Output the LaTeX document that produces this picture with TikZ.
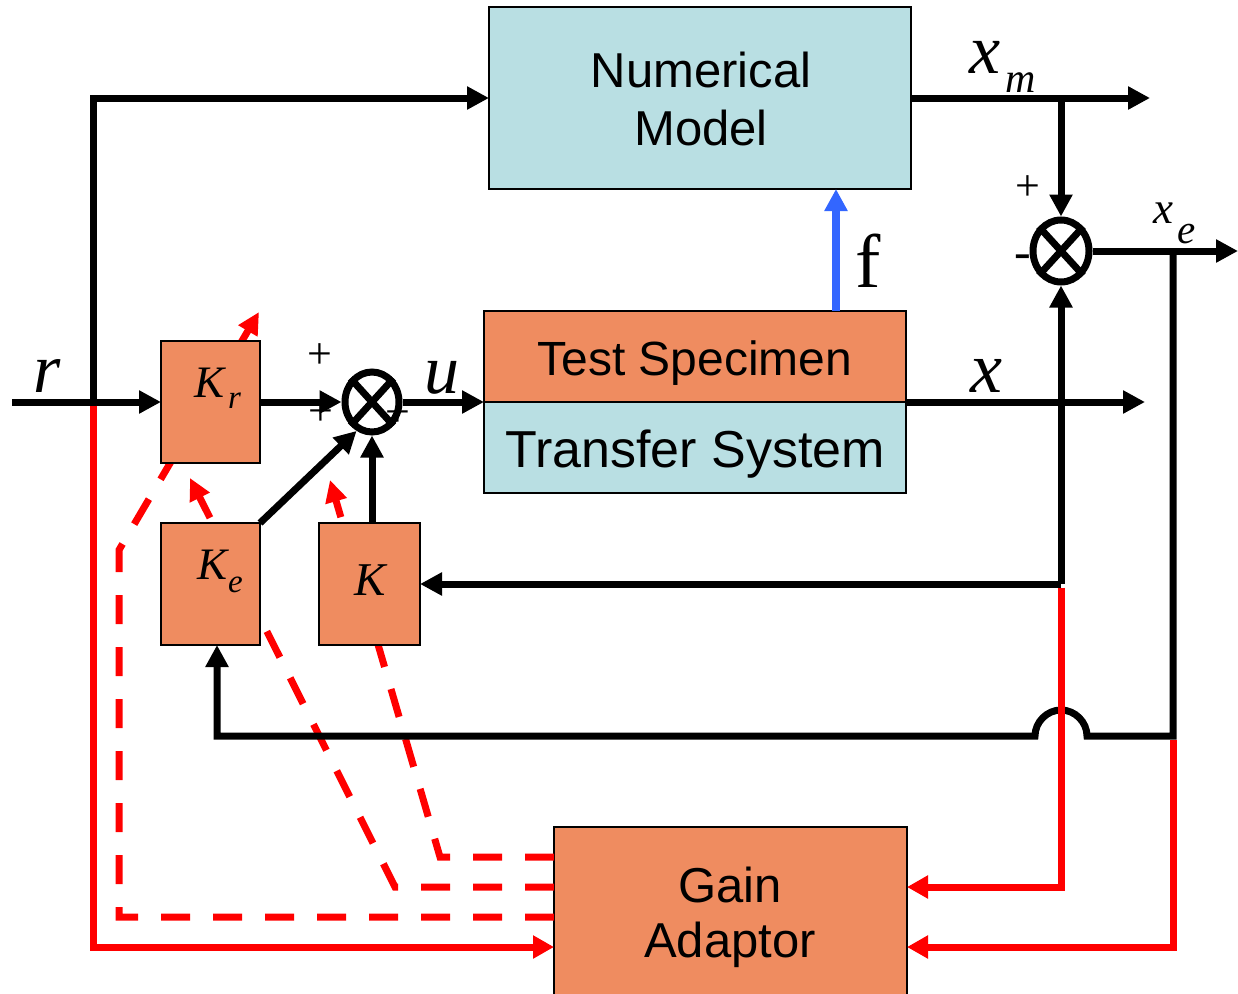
\documentclass[tikz,border=0pt]{standalone}
\usepackage{fontspec}
\setmainfont{Liberation Sans}
\newfontfamily\tms{Liberation Serif}
\usetikzlibrary{arrows.meta,shapes.geometric,calc}

\definecolor{boxorange}{HTML}{EF8C60}
\definecolor{boxblue}{HTML}{B9DFE3}
\definecolor{sigred}{HTML}{FF0000}
\definecolor{forceblue}{HTML}{3366FF}

\tikzset{
  blk/.style={draw=black, line width=2.5pt, inner sep=0pt, outer sep=0pt},
  orangeblk/.style={blk, fill=boxorange},
  blueblk/.style={blk, fill=boxblue},
  wire/.style={line width=7pt},
  sig/.style={wire, -{Triangle[length=22pt,width=22pt]}},
  redsig/.style={wire, draw=sigred, -{Triangle[length=21pt,width=22pt]}, shorten <=3.5pt},
  adapt/.style={wire, draw=sigred, dash pattern=on 29pt off 23pt, -{Triangle[length=22pt,width=21pt]}},
  junction/.style={draw, ellipse, line width=7pt, inner sep=0pt},
  sans/.style={inner sep=0pt, anchor=base, font=\fontsize{#1}{#1}\selectfont},
  sans/.default=49,
  ital/.style={inner sep=0pt, anchor=base west, font=\tms\itshape\fontsize{#1}{#1}\selectfont},
  rom/.style={inner sep=0pt, font=\tms\fontsize{#1}{#1}\selectfont}
}

\begin{document}
\begin{tikzpicture}[x=1pt,y=-1pt]
\useasboundingbox (0,0) rectangle (1238,993);
\clip (0,0) rectangle (1238,993);

% gain adaptor first, so that the dashed gain paths start at its edge
\node[orangeblk, minimum width=353pt, minimum height=173pt] (GA) at (730.5,913.5) {};
\node[sans] (GAt1) at (730,902) {Gain};
\node[sans] (GAt2) at (730,957) {Adaptor};

\coordinate (ga1) at ($(GA.north west)+(0,30)$);
\coordinate (ga2) at ($(GA.north west)+(0,60)$);
\coordinate (ga3) at ($(GA.north west)+(0,90)$);
\coordinate (ga4) at ($(GA.north west)+(0,120)$);
\coordinate (gb1) at ($(GA.north east)+(0,60)$);
\coordinate (gb2) at ($(GA.north east)+(0,120)$);

% adaptive gain paths (run underneath the gain blocks)
\coordinate (d1a) at (119,917);
\coordinate (d1b) at (119,550);
\coordinate (d1t) at (259,312);
\coordinate (d2a) at (395,887);
\coordinate (d2t) at (190,478);
\coordinate (d3a) at (440,857);
\coordinate (d3t) at (330,480);
\draw[adapt] (ga3) -- (d1a) -- (d1b) -- (d1t);
\draw[adapt] (ga2) -- (d2a) -- (d2t);
\draw[adapt] (ga1) -- (d3a) -- (d3t);

% blocks
\node[blueblk, minimum width=422pt, minimum height=182pt] (NM) at (700,98) {};
\node[sans] (NMt1) at (701,87) {Numerical};
\node[sans] (NMt2) at (701,145) {Model};
\node[orangeblk, minimum width=422pt, minimum height=91pt] (TS) at (695,356.5) {};
\node[blueblk, minimum width=422pt, minimum height=91pt] (TR) at (695,447.5) {};
\node[sans=48] (TSt) at (695,375) {Test Specimen};
\node[sans=52] (TRt) at (695,467) {Transfer System};
\node[orangeblk, minimum width=99pt, minimum height=122pt] (Kr) at (210.5,402) {};
\node[orangeblk, minimum width=99pt, minimum height=122pt] (Ke) at (210.5,584) {};
\node[orangeblk, minimum width=101pt, minimum height=122pt] (K) at (369.5,584) {};

% gain labels
\node[ital=45] (KrK) at (194,397) {K};
\node[ital=33] (Krr) at (228,408) {r};
\node[ital=45] (KeK) at (197,579) {K};
\node[ital=33] (Kee) at (228,592) {e};
\node[ital=47] (KK) at (354,595) {K};

% summing junctions
\node[rom=44] (p1) at (320,356) {+};
\node[rom=44] (p2) at (321,413) {+};
\node[rom=44] (p3) at (398,414) {+};
\node[junction, minimum width=54pt, minimum height=60pt] (s1) at (372,402) {};
\draw[wire] (s1.north east) -- (s1.south west) (s1.north west) -- (s1.south east);
\node[rom=44] (p4) at (1028,188) {+};
\node[rom=50] (m1) at (1023,262) {-};
\node[junction, minimum width=56pt, minimum height=62pt] (s2) at (1061,251) {};
\draw[wire] (s2.north east) -- (s2.south west) (s2.north west) -- (s2.south east);

% signal coordinates
\coordinate (rin) at (12,402);
\coordinate (jr) at (93,402);
\coordinate (jm) at (1061,98);
\coordinate (xmout) at (1150,98);
\coordinate (je) at (1173,251);
\coordinate (xeout) at (1238,251);
\coordinate (jeb) at (1173,736);
\coordinate (xout) at (1145,402);
\coordinate (jx) at (1061,584);
\coordinate (kecorner) at (217,736);
\coordinate (fb) at (836,311);

% black signal paths
\draw[sig] (rin) -- (Kr.west);
\draw[sig] (jr) |- (NM.west);
\draw[sig] (NM.east) -- (xmout);
\draw[sig] (jm) -- (s2.north);
\draw[sig] (s2.east) -- (xeout);
\draw[sig] (Kr.east) -- (s1.west);
\draw[sig] (s1.east) -- (TS.south west);
\draw[sig] (TS.south east) -- (xout);
\draw[sig] (jx) -- (s2.south);
\draw[sig] (jx) -- (K.east);
\draw[sig] (s1.south |- K.north) -- (s1.south);
\draw[sig] (Ke.north east) -- (s1.-118);
\draw[sig] (je) -- (jeb) -- (1087,736)
  .. controls (1087,722) and (1075,710) .. (1061,710)
  .. controls (1047,710) and (1035,722) .. (1035,736)
  -- (kecorner) -- (kecorner |- Ke.south);

% interaction force
\draw[sig, draw=forceblue, line width=8pt] (fb) -- (fb |- NM.south);

% measured signals to the gain adaptor
\draw[redsig] (jr) |- (ga4);
\draw[redsig] (jx) |- (gb1);
\draw[redsig] (jeb) |- (gb2);

% signal labels
\node[ital=70] (rlab) at (33,392) {r};
\node[ital=70] (ulab) at (424,393) {u};
\node[ital=72] (xlab) at (970,392) {x};
\node[ital=70] (xmx) at (969,73) {x};
\node[ital=42] (xmm) at (1005,92) {m};
\node[ital=45] (xex) at (1153,223) {x};
\node[ital=41] (xee) at (1177,243) {e};
\node[rom=76, anchor=base west] (flab) at (855,287) {f};
\end{tikzpicture}
\end{document}
